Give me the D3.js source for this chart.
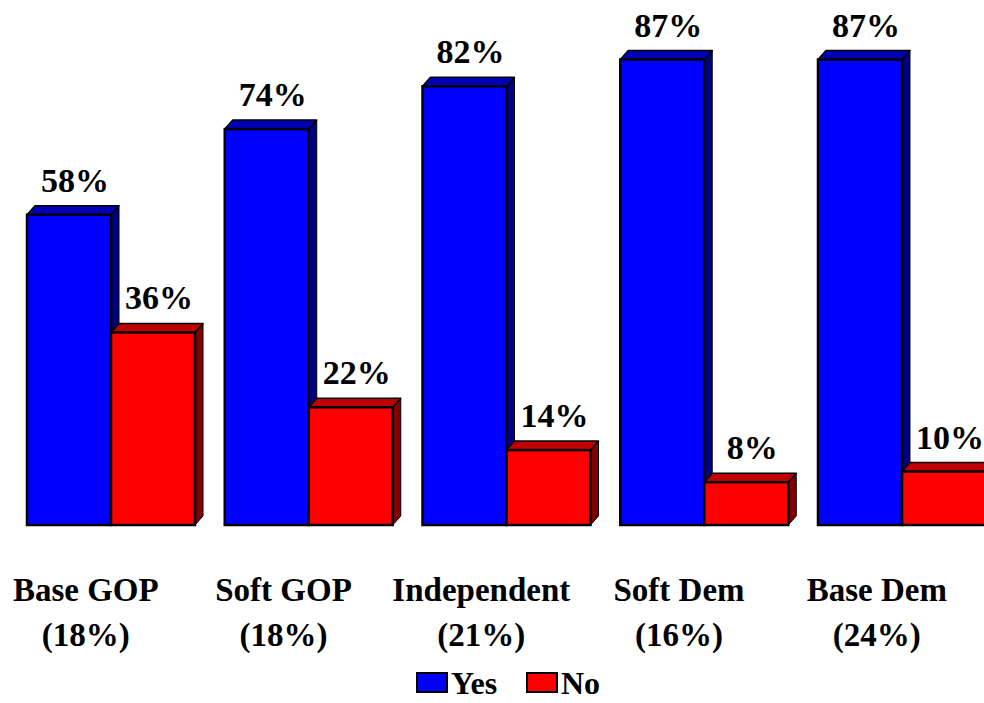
<!DOCTYPE html>
<html><head><meta charset="utf-8">
<script src="https://cdn.jsdelivr.net/npm/d3@7"></script>
<style>html,body{margin:0;padding:0;background:#fff;}svg{display:block;}
svg text{font-family:"Liberation Serif","Times New Roman",Times,"DejaVu Serif",serif;font-weight:bold;}</style>
</head><body>
<script>
const categories = ["Base GOP", "Soft GOP", "Independent", "Soft Dem", "Base Dem"];
const categoryShares = ["(18%)", "(18%)", "(21%)", "(16%)", "(24%)"];
const seriesNames = ["Yes", "No"];
const yesValues = [58, 74, 82, 87, 87];
const noValues = [36, 22, 14, 8, 10];

const W = 984, H = 703;
const colors = {Yes: {front: "#0000FF", top: "#0000B4", side: "#000080"},
                No: {front: "#FF0000", top: "#C00000", side: "#800000"}};
const dx = 8, dy = 9;

const svg = d3.select("body").append("svg").attr("width", W).attr("height", H);

const x0 = d3.scaleBand().domain(categories).range([27, 986]).paddingInner(0.1504).paddingOuter(0);
const x1 = d3.scaleBand().domain(seriesNames).range([0, x0.bandwidth()]);
const y = d3.scaleLinear().domain([0, 100]).range([525, -10]);

const data = categories.map((c, i) => ({cat: c, share: categoryShares[i], Yes: yesValues[i], No: noValues[i]}));

const g = svg.append("g");
data.forEach(d => {
  seriesNames.forEach(s => {
    const xl = x0(d.cat) + x1(s), xr = xl + x1.bandwidth();
    const yt = y(d[s]), yb = y(0);
    const c = colors[s];
    const bg = g.append("g");
    bg.append("path").attr("d", `M${xr},${yt}L${xr+dx},${yt-dy}L${xr+dx},${yb-dy}L${xr},${yb}Z`)
      .attr("fill", c.side).attr("stroke", "#000").attr("stroke-width", 1).attr("stroke-linejoin", "round");
    bg.append("path").attr("d", `M${xl},${yt}L${xl+dx},${yt-dy}L${xr+dx},${yt-dy}L${xr},${yt}Z`)
      .attr("fill", c.top).attr("stroke", "#000").attr("stroke-width", 1.5).attr("stroke-linejoin", "round");
    bg.append("rect").attr("x", xl).attr("y", yt).attr("width", xr - xl).attr("height", yb - yt)
      .attr("fill", c.front).attr("stroke", "#000").attr("stroke-width", 2.5);
    bg.append("text").attr("x", (xl + xr) / 2 + 6).attr("y", yt - 23)
      .attr("text-anchor", "middle").style("font-size", "34px").attr("fill", "#000").text(d[s] + "%");
  });
  const cx = x0(d.cat) + x0.bandwidth() * 0.35;
  g.append("text").attr("x", cx).attr("y", 601).attr("text-anchor", "middle")
    .style("font-size", "33px").text(d.cat);
  g.append("text").attr("x", cx).attr("y", 646).attr("text-anchor", "middle")
    .style("font-size", "33px").text(d.share);
});

const legendX = [417, 527];
seriesNames.forEach((s, i) => {
  svg.append("rect").attr("x", legendX[i]).attr("y", 673).attr("width", 30).attr("height", 19)
    .attr("fill", colors[s].front).attr("stroke", "#000").attr("stroke-width", 2);
  svg.append("text").attr("x", legendX[i] + 34).attr("y", 694)
    .style("font-size", "32px").text(s);
});
</script>
</body></html>
